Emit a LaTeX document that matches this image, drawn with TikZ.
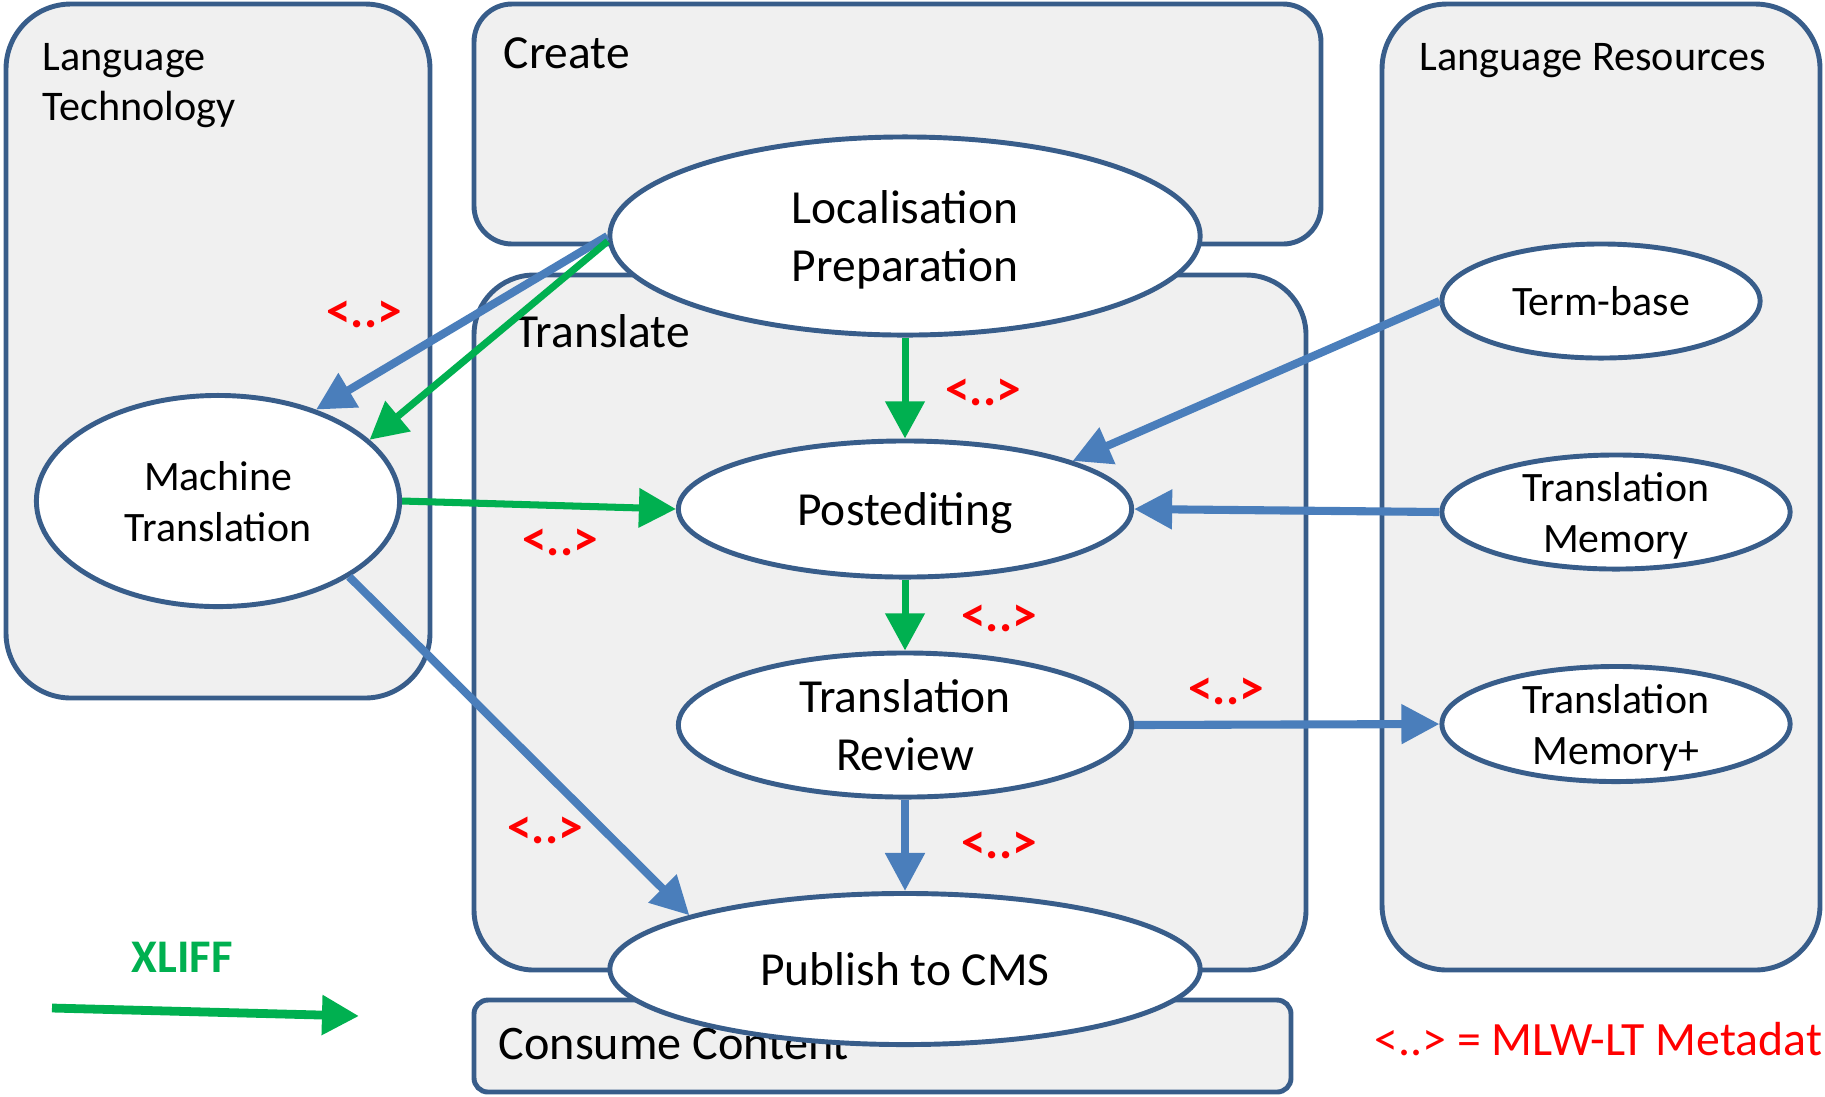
\documentclass[tikz,border=0pt]{standalone}
\usepackage{fontspec}
\setmainfont{Carlito}
\usetikzlibrary{shapes.geometric,arrows.meta}
\definecolor{edge}{HTML}{385D8A}
\definecolor{flow}{HTML}{4A7EBB}
\definecolor{xliff}{HTML}{00B050}
\definecolor{panefill}{HTML}{F0F0F0}
\begin{document}
\begin{tikzpicture}[x=0.01cm, y=-0.01cm,
        group/.style={draw=edge, fill=panefill, line width=1.4pt},
        title/.style={anchor=base west, inner sep=0pt, align=left,
            font=\fontsize{13.5}{16.5}\selectfont},
        subtitle/.style={anchor=base west, inner sep=0pt, align=left,
            font=\fontsize{12}{14.2}\selectfont},
        stage/.style={ellipse, draw=edge, fill=white, line width=1.4pt,
            inner sep=0pt, text depth=0pt, align=center,
            font=\fontsize{13.5}{16.5}\selectfont},
        res/.style={ellipse, draw=edge, fill=white, line width=1.4pt,
            inner sep=0pt, inner ysep=-0.1cm, text depth=0pt, align=center,
            font=\fontsize{11.9}{14.5}\selectfont},
        blueflow/.style={-{Triangle[length=0.38cm,width=0.38cm]}, flow, line width=2.3pt},
        greenflow/.style={-{Triangle[length=0.37cm,width=0.38cm]}, xliff, line width=2pt},
        meta/.style={red, font=\fontsize{14}{16}\selectfont\bfseries}]
        \useasboundingbox (0,0) rectangle (1825,1096);
        \draw[group, rounded corners=0.65cm] (6,4) rectangle (430,698);
        \draw[group, rounded corners=0.38cm] (474,4) rectangle (1321,244);
        \draw[group, rounded corners=0.6cm] (474,275) rectangle (1306,970);
        \draw[group, rounded corners=0.65cm] (1382,4) rectangle (1820,970);
        \draw[group, rounded corners=0.14cm] (474,1000) rectangle (1291,1092);
        \node[subtitle] (lt) at (42,120) {Language\\Technology};
        \node[title] (create) at (503,68) {Create};
        \node[title] (translate) at (515,347) {Translate};
        \node[subtitle] (lr) at (1419,70) {Language Resources};
        \node[title, font=\fontsize{13.7}{16.5}\selectfont] (consume) at (498,1059) {Consume Content};
        \node[stage, minimum width=5.9cm, minimum height=1.98cm] (lp) at (905,236) {Localisation\\Preparation};
        \node[res, minimum width=3.63cm, minimum height=2.11cm] (mt) at (218,501) {Machine\\Translation};
        \node[stage, minimum width=4.53cm, minimum height=1.36cm] (pe) at (905,509) {Postediting};
        \node[stage, minimum width=4.53cm, minimum height=1.44cm] (tr) at (905,725) {Translation\\Review};
        \node[stage, minimum width=5.9cm, minimum height=1.51cm] (pub) at (905,969) {Publish to CMS};
        \node[res, minimum width=3.18cm, minimum height=1.14cm] (tb) at (1601,301) {Term-base};
        \node[res, minimum width=3.48cm, minimum height=1.14cm] (tm) at (1616,512) {Translation\\Memory};
        \node[res, minimum width=3.48cm, minimum height=1.15cm] (tmp) at (1616,724) {Translation\\Memory+};
        \draw[blueflow] (lp.west) -- (mt.43);
        \draw[greenflow] (lp.181) -- (mt.22);
        \draw[greenflow] (lp.south) -- (pe.north);
        \draw[greenflow] (mt.east) -- (pe.west);
        \draw[blueflow] (tb.west) -- (pe.16);
        \draw[blueflow] (tm.west) -- (pe.east);
        \draw[greenflow] (pe.south) -- (tr.north);
        \draw[blueflow] (tr.east) -- (tmp.west);
        \draw[blueflow] (tr.south) -- (pub.north);
        \draw[blueflow] (mt.-30) -- (pub.166);
        \node[meta] (m1) at (364,314) {<..>};
        \node[meta] (m2) at (983,392) {<..>};
        \node[meta] (m3) at (560,542) {<..>};
        \node[meta] (m4) at (999,618) {<..>};
        \node[meta] (m5) at (1226,691) {<..>};
        \node[meta] (m6) at (545,830) {<..>};
        \node[meta] (m7) at (999,845) {<..>};
        \node[xliff, font=\fontsize{13.3}{16}\selectfont\bfseries] (xl) at (182,957) {XLIFF};
        \coordinate (xa) at (52,1008);
        \coordinate (xb) at (359,1016);
        \draw[greenflow, line width=2.5pt] (xa) -- (xb);
        \node[red, anchor=base west, inner sep=0pt, font=\fontsize{13.6}{16}\selectfont] (key) at (1374,1055) {<..> = MLW-LT Metadat};
    \end{tikzpicture}
\end{document}
